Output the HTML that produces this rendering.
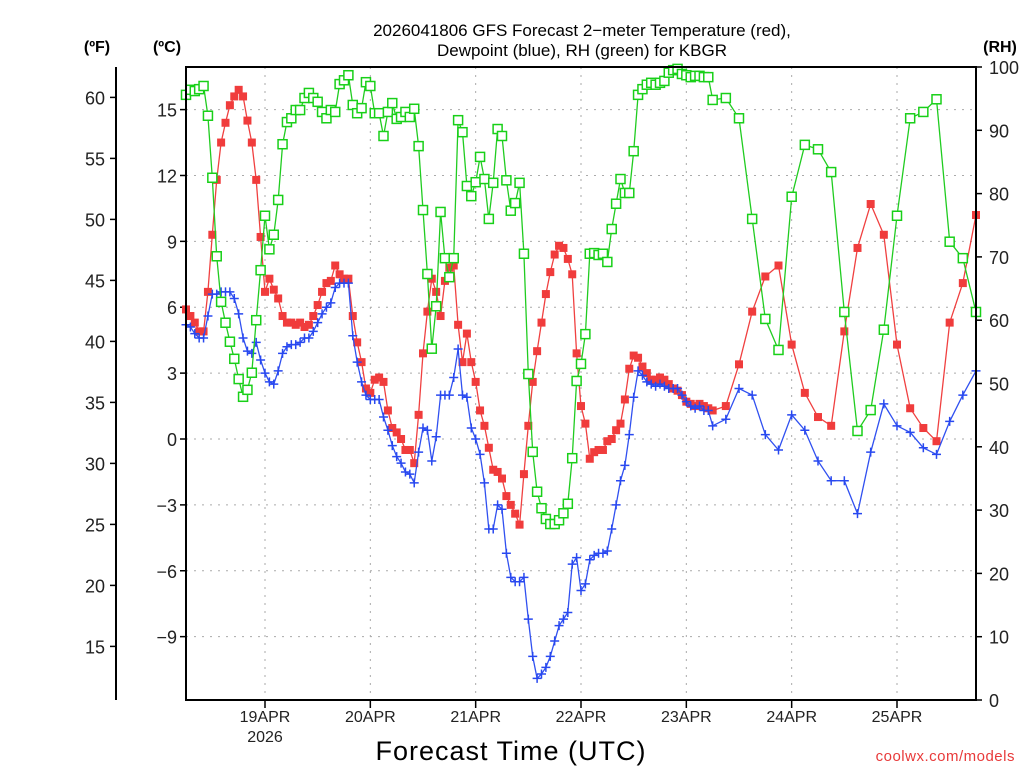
<!DOCTYPE html>
<html><head><meta charset="utf-8"><style>
html,body{margin:0;padding:0;background:#fff}
svg text{font-family:"Liberation Sans",sans-serif}
</style></head><body>
<svg id="chart" width="1024" height="768" xmlns="http://www.w3.org/2000/svg">
<rect x="0" y="0" width="1024" height="768" fill="#fff"/>
<text x="582" y="36" font-size="17" text-anchor="middle" fill="#000">2026041806 GFS Forecast 2−meter Temperature (red),</text>
<text x="582" y="56" font-size="17" text-anchor="middle" fill="#000">Dewpoint (blue), RH (green) for KBGR</text>
<text x="97" y="52" font-size="16" font-weight="bold" text-anchor="middle">(ºF)</text>
<text x="167" y="52" font-size="16" font-weight="bold" text-anchor="middle">(ºC)</text>
<text x="1000" y="52" font-size="16" font-weight="bold" text-anchor="middle">(RH)</text>
<g id="grid"></g>
<g id="axes"></g>
<g id="series"></g>
<rect x="186" y="67" width="790" height="633" fill="none" stroke="#000" stroke-width="2"/>
<text x="511" y="760" font-size="27" text-anchor="middle" letter-spacing="1">Forecast Time (UTC)</text>
<text x="1015" y="761" font-size="15" text-anchor="end" fill="#e83a3a" letter-spacing="0.5">coolwx.com/models</text>
</svg>
<script>
const tempC = [5.9,5.6,5.3,4.9,4.9,6.7,9.3,11.8,13.5,14.4,15.2,15.6,15.9,15.6,14.5,13.5,11.8,9.2,6.7,7.3,6.8,6.4,5.6,5.3,5.3,5.2,5.3,5.1,5.2,5.6,6.1,6.7,7.1,7.2,7.9,7.5,7.3,7.3,5.6,4.4,3.5,2.3,2.1,2.7,2.8,2.6,
1.3,0.5,0.3,0.0,-0.5,-0.5,-1.1,1.1,3.9,5.8,7.3,6.7,5.6,7.2,7.8,7.9,5.2,3.5,4.8,3.5,2.6,1.3,0.6,-0.4,-1.4,-1.5,-1.8,-2.6,-3.0,-3.4,-3.9,-1.6,0.6,2.6,4.0,5.3,6.6,7.6,8.4,8.8,8.7,8.2,7.5,3.9,
1.5,0.7,-0.9,-0.6,-0.5,-0.5,-0.1,0.0,0.4,0.7,1.8,3.2,3.8,3.7,3.3,3.0,2.7,2.7,2.8,2.7,2.5,2.3,2.2,2.0,1.7,1.6,1.5,1.6,1.5,1.4,1.3,
1.5,3.4,5.8,7.4,7.9,4.3,2.1,1.0,0.6,4.9,8.7,10.7,9.3,4.3,1.4,0.5,-0.1,5.3,7.1,10.2];
const dewC = [5.2,5.1,4.8,4.6,4.6,5.6,6.6,6.6,6.7,6.7,6.7,6.4,5.7,4.6,4.0,3.9,4.4,3.6,3.0,2.6,2.5,3.1,3.9,4.2,4.3,4.3,4.4,4.6,4.6,4.9,5.3,5.7,6.0,6.2,6.9,7.1,7.1,7.1,4.7,3.5,2.6,2.0,1.8,1.8,1.8,1.0,
0.4,-0.3,-0.8,-1.1,-1.5,-1.6,-2.0,-0.6,0.5,0.4,-1.0,0.1,2.0,2.0,2.0,2.8,4.1,2.0,1.9,0.5,0.0,-0.7,-2.0,-4.1,-4.1,-3.0,-3.2,-5.2,-6.3,-6.5,-6.5,-6.3,-8.2,-9.9,-10.9,-10.7,-10.4,-9.9,-9.2,-8.5,-8.2,-7.9,-5.7,-5.4,
-6.9,-6.6,-5.5,-5.3,-5.2,-5.2,-5.1,-4.1,-3.0,-1.9,-1.2,0.2,1.9,3.1,2.9,2.6,2.5,2.4,2.5,2.4,2.3,2.3,2.3,2.0,1.7,1.5,1.4,1.5,1.3,1.3,0.6,
0.9,2.3,2.0,0.2,-0.5,1.1,0.4,-1.0,-1.9,-1.9,-3.4,-0.6,1.6,0.6,0.3,-0.4,-0.7,0.8,2.0,3.1];
const rhPct = [95.6,96.4,96.2,96.5,97.0,92.3,82.5,70.1,62.9,59.6,56.6,53.9,50.7,47.9,49.0,51.7,60.0,67.9,76.5,71.2,73.5,79.0,87.8,91.3,91.9,93.2,93.2,95.1,95.9,95.1,94.5,92.9,91.9,93.2,92.9,97.3,97.9,98.7,94.0,92.7,93.5,97.6,97.0,92.7,92.7,89.1,
92.9,94.3,91.8,92.1,92.9,92.1,93.4,87.5,77.4,67.3,55.5,62.2,77.1,69.8,66.8,69.8,91.6,89.7,81.2,79.6,81.8,85.8,82.3,76.0,81.7,90.2,89.1,82.1,77.3,78.5,81.7,70.5,51.5,39.2,32.9,30.3,28.6,27.8,27.8,28.4,29.5,31.0,38.2,50.4,
53.1,57.8,70.5,70.6,70.3,70.5,69.2,74.4,78.4,82.3,80.1,80.1,86.7,95.6,96.5,97.2,97.5,97.2,97.5,97.8,99.1,99.5,99.7,98.9,98.7,98.4,98.6,98.6,98.4,98.4,94.8,
95.1,91.9,76.0,60.2,55.3,79.5,87.7,87.0,83.4,61.3,42.5,45.8,58.5,76.5,91.9,92.9,94.9,72.4,69.8,61.3];
const celsiusTicks = [-9,-6,-3,0,3,6,9,12,15];
const fahrenheitTicks = [15,20,25,30,35,40,45,50,55,60];
const rhTicks = [0,10,20,30,40,50,60,70,80,90,100];
const dayLabels = ["19APR","20APR","21APR","22APR","23APR","24APR","25APR"];
const dayHours = [18,42,66,90,114,138,162];

const hours = [];
for (let h = 0; h <= 120; h++) hours.push(h);
for (let h = 123; h <= 180; h += 3) hours.push(h);

const NS = "http://www.w3.org/2000/svg";
const X0 = 186, X1 = 976, Y0 = 67, Y1 = 700;
const xOf = h => X0 + (X1 - X0) * h / 180;
const yC = c => 439 - c * 21.96;
const yF = f => yC((f - 32) / 1.8);
const yRH = r => Y1 - (Y1 - Y0) * r / 100;
function mk(tag, attrs, parent) {
  const e = document.createElementNS(NS, tag);
  for (const k in attrs) e.setAttribute(k, attrs[k]);
  parent.appendChild(e);
  return e;
}
const grid = document.getElementById('grid');
const axes = document.getElementById('axes');
const series = document.getElementById('series');

celsiusTicks.forEach(c => {
  const y = yC(c);
  const g = mk('line', {x1: X0, x2: X1, y1: y, y2: y, stroke: '#aaa', 'stroke-width': 1, 'stroke-dasharray': '2,6'}, grid);
  
  
  const t = mk('line', {x1: X0 - 6, x2: X0, y1: y, y2: y, stroke: '#000', 'stroke-width': 1.5}, axes);
  
  
  const l = mk('text', {x: X0 - 9, y: y + 7, 'font-size': 18, 'text-anchor': 'end', fill: '#222'}, axes);
  l.textContent = c < 0 ? '−' + Math.abs(c) : String(c);
  
  
});
dayHours.forEach((h, i) => {
  const x = xOf(h);
  const g = mk('line', {x1: x, x2: x, y1: Y0, y2: Y1, stroke: '#aaa', 'stroke-width': 1, 'stroke-dasharray': '2,6'}, grid);
  
  
  const t = mk('line', {x1: x, x2: x, y1: Y1, y2: Y1 + 8, stroke: '#000', 'stroke-width': 1.5}, axes);
  
  
  const l = mk('text', {x: x, y: 722, 'font-size': 16, 'text-anchor': 'middle', fill: '#222'}, axes);
  l.textContent = dayLabels[i];
  
  
});
const yr = mk('text', {x: xOf(dayHours[0]), y: 742, 'font-size': 16, 'text-anchor': 'middle', fill: '#222'}, axes);
yr.textContent = '2026';



const fAxis = mk('line', {x1: 116, x2: 116, y1: Y0, y2: Y1, stroke: '#000', 'stroke-width': 2}, axes);


fahrenheitTicks.forEach(f => {
  const y = yF(f);
  const t = mk('line', {x1: 110, x2: 116, y1: y, y2: y, stroke: '#000', 'stroke-width': 1.5}, axes);
  
  
  const l = mk('text', {x: 105, y: y + 7, 'font-size': 18, 'text-anchor': 'end', fill: '#222'}, axes);
  l.textContent = String(f);
  
  
});
rhTicks.forEach(r => {
  const y = yRH(r);
  const t = mk('line', {x1: X1, x2: X1 + 6, y1: y, y2: y, stroke: '#000', 'stroke-width': 1.5}, axes);
  
  
  const l = mk('text', {x: 989, y: y + 7, 'font-size': 18, 'text-anchor': 'start', fill: '#222'}, axes);
  l.textContent = String(r);
  
  
});

function line(vals, yfn, color, name) {
  const pts = vals.map((v, i) => xOf(hours[i]).toFixed(1) + ',' + yfn(v).toFixed(1)).join(' ');
  const p = mk('polyline', {points: pts, fill: 'none', stroke: color, 'stroke-width': 1.3}, series);
  
  
}
line(tempC, yC, '#f04040', 'temperature-line');
tempC.forEach((v, i) => {
  const m = mk('rect', {x: xOf(hours[i]) - 4, y: yC(v) - 4, width: 8, height: 8, fill: '#f03c3c'}, series);
  
  
});
line(dewC, yC, '#3050f0', 'dewpoint-line');
dewC.forEach((v, i) => {
  const x = xOf(hours[i]), y = yC(v);
  const m = mk('path', {d: `M${x-4.5},${y}H${x+4.5}M${x},${y-4.5}V${y+4.5}`, stroke: '#2848f0', 'stroke-width': 1.5, fill: 'none'}, series);
  
  
});
line(rhPct, yRH, '#20cc20', 'rh-line');
rhPct.forEach((v, i) => {
  const m = mk('rect', {x: xOf(hours[i]) - 4.5, y: yRH(v) - 4.5, width: 9, height: 9, fill: '#fff', stroke: '#18d018', 'stroke-width': 1.5}, series);
  
  
});
</script>
</body></html>
